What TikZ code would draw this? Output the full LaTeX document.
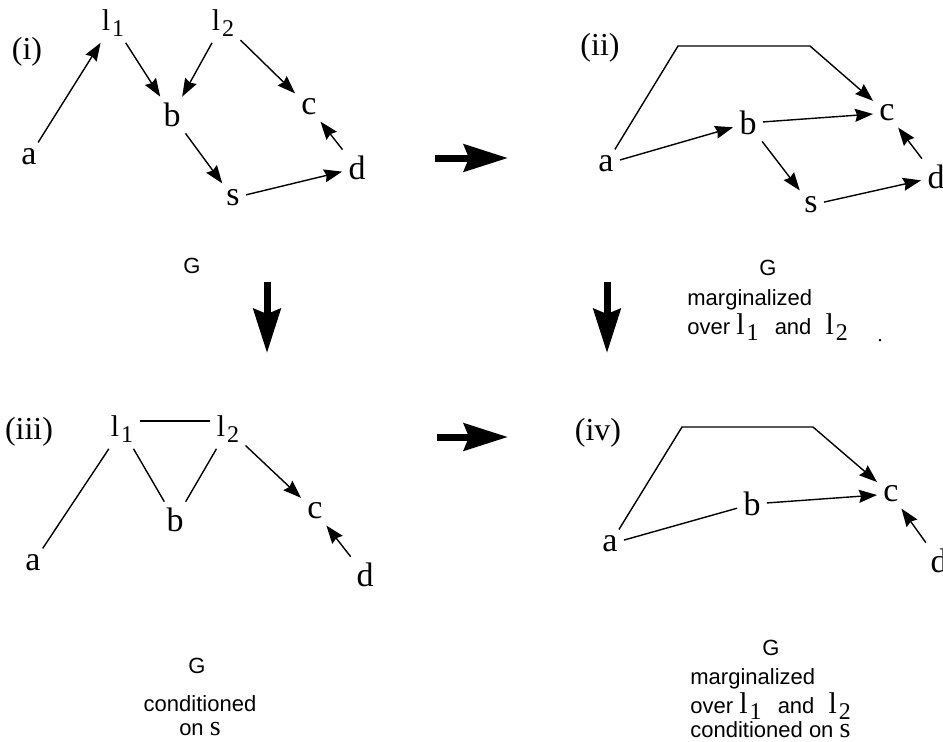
\documentclass[tikz,border=0pt]{standalone}
\usepackage{fontspec}
\setmainfont{Liberation Serif}
\setsansfont{Liberation Sans}
\usepackage{tikz}
\usetikzlibrary{arrows.meta,positioning,calc}

% latent variable l with a lowered index
\newcommand{\lnode}[1]{{\rmfamily\fontsize{15}{15}\selectfont l}\kern1pt\raisebox{-3pt}{\rmfamily\fontsize{12}{12}\selectfont #1}}
\newcommand{\capser}[1]{{\rmfamily\fontsize{14}{12}\selectfont #1}}
\newcommand{\overls}{over \lnode{1}\hspace{5pt} and\hspace{4pt} \lnode{2}}

\begin{document}
\begin{tikzpicture}[
    x=0.5pt, y=-0.5pt,
    var/.style={inner sep=3pt, font=\fontsize{17}{20}\selectfont},
    lab/.style={inner sep=0pt, font=\fontsize{16}{18}\selectfont},
    captext/.style={inner sep=0pt, font=\sffamily\fontsize{11}{12}\selectfont},
    arr/.style={-{Stealth[length=9pt,width=6.5pt,inset=1pt]}, line width=0.7pt},
    lnk/.style={line width=0.7pt},
    bigarr/.style={-{Stealth[length=22pt,width=13.5pt,inset=2.5pt]}, line width=3.5pt},
]
\useasboundingbox (0,0) rectangle (943,741);

% (i) G
\node[lab] (p1) at (27,52) {(i)};
\node[var] (l1a) at (113,23) {\lnode{1}};
\node[var] (l2a) at (223,23) {\lnode{2}};
\node[var] (ba) at (172,115) {b};
\node[var] (ca) at (309,107) {c};
\node[var] (aa) at (29,157) {a};
\node[var] (da) at (357,168) {d};
\node[var] (sa) at (233,198) {s};
\node[captext] (ga) at (192,266) {G};

\foreach \a/\b in {aa/l1a, l1a/ba, l2a/ba, l2a/ca, da/ca, ba/sa, sa/da}
  \draw[arr] (\a) -- (\b);

% (ii) G marginalized
\node[lab] (p2) at (600,48) {(ii)};
\node[var] (ab) at (606,164) {a};
\node[var] (bb) at (748,123) {b};
\node[var] (cb) at (887,113) {c};
\node[var] (db) at (936,177) {d};
\node[var] (sb) at (811,205) {s};
\coordinate (tlb) at (678,46);
\coordinate (trb) at (810,46);
\node[captext] (gb) at (768,268) {G};
\node[captext, anchor=north west, align=left] (mb) at (687,289)
  {marginalized\\[1pt]\overls};
\node[inner sep=0pt, font=\fontsize{10}{10}\selectfont] (dot) at (880,341) {.};

\foreach \a/\b in {ab/bb, bb/cb, bb/sb, sb/db, db/cb}
  \draw[arr] (\a) -- (\b);
\draw[arr] (ab) -- (tlb) -- (trb) -- (cb);

% (iii) G conditioned on s
\node[lab] (p3) at (29,432) {(iii)};
\node[var] (l1c) at (122,429) {\lnode{1}};
\node[var] (l2c) at (228,429) {\lnode{2}};
\node[var] (bc) at (175,520) {b};
\node[var] (cc) at (315,511) {c};
\node[var] (ac) at (33,563) {a};
\node[var] (dc) at (365,575) {d};
\node[captext] (gc) at (197,666) {G};
\node[captext, anchor=north, align=center] (mc) at (200,695)
  {conditioned\\on \capser{s}};

\draw[lnk] ([yshift=4pt]l1c.east) -- ([yshift=4pt]l2c.west);
\foreach \a/\b in {ac/l1c, l1c/bc, l2c/bc}
  \draw[lnk] (\a) -- (\b);
\foreach \a/\b in {l2c/cc, dc/cc}
  \draw[arr] (\a) -- (\b);

% (iv) both
\node[lab] (p4) at (598,433) {(iv)};
\node[var] (ad) at (610,544) {a};
\node[var] (bd) at (752,504) {b};
\node[var] (cd) at (891,494) {c};
\node[var] (dd) at (939,561) {d};
\coordinate (tld) at (682,427);
\coordinate (trd) at (813,427);
\node[captext] (gd) at (771,648) {G};
\node[captext, anchor=north west, align=left] (md) at (690,668)
  {marginalized\\[1pt]\overls\\[0pt]conditioned on \capser{s}};

\draw[lnk] (ad) -- (bd);
\foreach \a/\b in {bd/cd, dd/cd}
  \draw[arr] (\a) -- (\b);
\draw[arr] (ad) -- (tld) -- (trd) -- (cd);

% big arrows between the panels
\coordinate (h1s) at (435,158); \coordinate (h1e) at (508,158);
\coordinate (h2s) at (437,437); \coordinate (h2e) at (508,437);
\coordinate (v1s) at (267,282); \coordinate (v1e) at (267,353);
\coordinate (v2s) at (607,282); \coordinate (v2e) at (607,353);
\foreach \a/\b in {h1s/h1e, h2s/h2e, v1s/v1e, v2s/v2e}
  \draw[bigarr] (\a) -- (\b);

\end{tikzpicture}
\end{document}
